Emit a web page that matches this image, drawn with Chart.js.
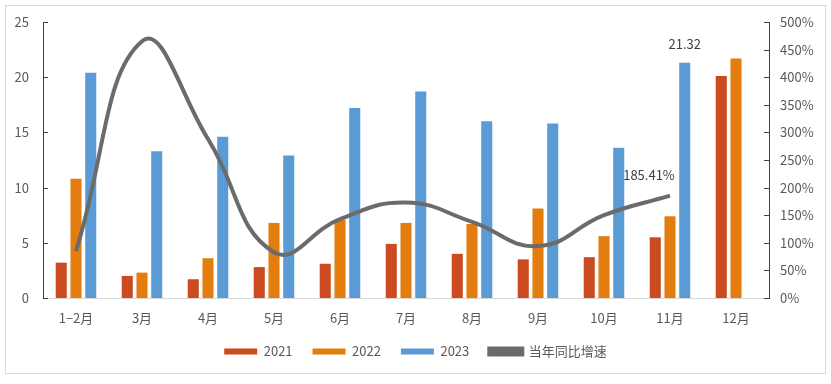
<!DOCTYPE html>
<html>
<head>
<meta charset="utf-8">
<script src="https://cdn.jsdelivr.net/npm/chart.js@4"></script>
<style>
  html, body { margin: 0; padding: 0; background: #fff; }
  #frame { position: absolute; left: 5px; top: 5px; width: 819px; height: 367px; border: 1px solid #d9d9d9; }
  #wrap { position: absolute; left: 0; top: 0; width: 831px; height: 384px; }
</style>
</head>
<body>
<div id="frame"></div>
<div id="wrap"><canvas id="chart" width="831" height="384"></canvas></div>
<script>
const months = ['1−2月', '3月', '4月', '5月', '6月', '7月', '8月', '9月', '10月', '11月', '12月'];
const v2021 = [3.2, 2.0, 1.7, 2.8, 3.1, 4.9, 4.0, 3.5, 3.7, 5.5, 20.1];
const v2022 = [10.8, 2.3, 3.6, 6.8, 7.1, 6.8, 6.7, 8.1, 5.6, 7.4, 21.7];
const v2023 = [20.4, 13.3, 14.6, 12.9, 17.2, 18.7, 16.0, 15.8, 13.6, 21.32, null];
const growth = [85, 465, 288, 83, 143, 173, 138, 94, 150, 185.41, null];
const leftTicks = [0, 5, 10, 15, 20, 25];
const rightTicks = [0, 50, 100, 150, 200, 250, 300, 350, 400, 450, 500];

const textColor = '#595959';
const font = { family: '"Noto Sans CJK SC", "Noto Sans", sans-serif', size: 13 };

// value labels and inward tick marks
const extras = {
  id: 'extras',
  afterDatasetsDraw(chart) {
    const ctx = chart.ctx;
    const x = chart.scales.x, y = chart.scales.y, y1 = chart.scales.y1;
    ctx.save();
    ctx.strokeStyle = '#404040';
    ctx.lineWidth = 1;
    leftTicks.forEach(t => {
      const py = Math.round(y.getPixelForValue(t)) + 0.5;
      ctx.beginPath(); ctx.moveTo(x.left, py); ctx.lineTo(x.left + 5, py); ctx.stroke();
    });
    rightTicks.forEach(t => {
      const py = Math.round(y1.getPixelForValue(t)) + 0.5;
      ctx.beginPath(); ctx.moveTo(x.right, py); ctx.lineTo(x.right - 5, py); ctx.stroke();
    });
    ctx.fillStyle = '#404040';
    ctx.font = '13px ' + font.family;
    ctx.textAlign = 'center';
    ctx.textBaseline = 'middle';
    const bar = chart.getDatasetMeta(2).data[9];
    ctx.fillText(v2023[9].toFixed(2), bar.x, bar.y - 19);
    const pt = chart.getDatasetMeta(3).data[9];
    ctx.fillText(growth[9].toFixed(2) + '%', pt.x - 21, pt.y - 21);
    ctx.restore();
  }
};

new Chart(document.getElementById('chart'), {
  data: {
    labels: months,
    datasets: [
      { type: 'bar', label: '2021', data: v2021, backgroundColor: '#CB4A1F', yAxisID: 'y', order: 1 },
      { type: 'bar', label: '2022', data: v2022, backgroundColor: '#E27D0E', yAxisID: 'y', order: 1 },
      { type: 'bar', label: '2023', data: v2023, backgroundColor: '#5B9BD5', yAxisID: 'y', order: 1 },
      {
        type: 'line', label: '当年同比增速', data: growth, yAxisID: 'y1', order: 0,
        borderColor: '#6b6b6b', backgroundColor: '#6b6b6b', borderWidth: 4,
        pointRadius: 0, tension: 0.45, fill: false, spanGaps: false
      }
    ]
  },
  options: {
    responsive: false,
    animation: false,
    devicePixelRatio: 1,
    layout: { padding: { top: 22, bottom: 16, left: 0, right: 0 } },
    datasets: { bar: { categoryPercentage: 0.67, barPercentage: 0.75 } },
    plugins: {
      tooltip: { enabled: false },
      legend: {
        position: 'bottom',
        labels: {
          boxWidth: 33, boxHeight: 6, color: textColor, font: font, padding: 20,
          sort: (a, b) => a.datasetIndex - b.datasetIndex
        }
      }
    },
    scales: {
      x: {
        grid: { display: false, drawTicks: false },
        border: { display: true, color: '#d9d9d9', width: 1 },
        ticks: { color: textColor, font: font, padding: 12, maxRotation: 0 },
        afterFit: s => { s.height = 27; }
      },
      y: {
        position: 'left', min: 0, max: 25,
        grid: { display: false, drawTicks: false },
        border: { display: true, color: '#404040', width: 1 },
        ticks: { stepSize: 5, color: textColor, font: font, padding: 14 },
        afterFit: s => { s.width = 43; }
      },
      y1: {
        position: 'right', min: 0, max: 500,
        grid: { display: false, drawTicks: false },
        border: { display: true, color: '#404040', width: 1 },
        ticks: { stepSize: 50, color: textColor, font: font, padding: 11, callback: v => v + '%' },
        afterFit: s => { s.width = 62; }
      }
    }
  },
  plugins: [extras]
});
</script>
</body>
</html>
